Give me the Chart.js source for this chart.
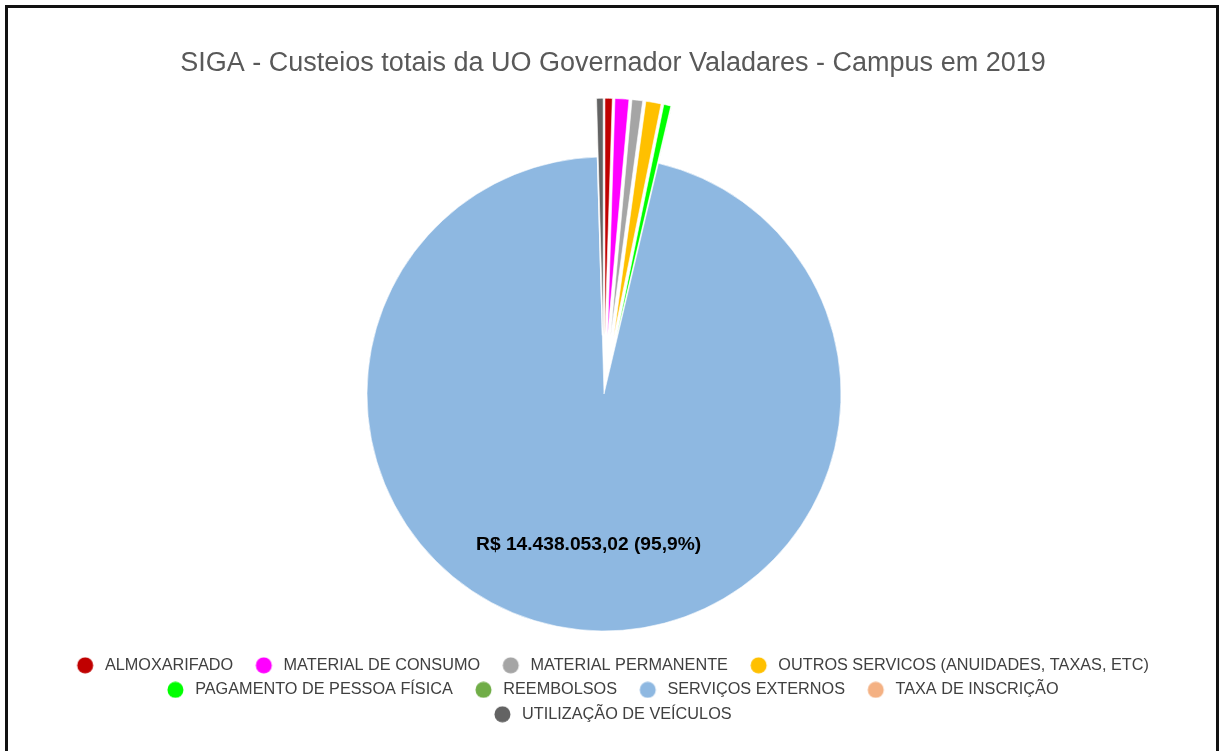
<!DOCTYPE html>
<html>
<head>
<meta charset="utf-8">
<script src="https://cdn.jsdelivr.net/npm/chart.js@4.4.1/dist/chart.umd.min.js"></script>
<style>
html,body{margin:0;padding:0;background:#fff;overflow:hidden;width:1220px;height:751px;}
#wrap{position:relative;width:1220px;height:751px;}
#c{position:absolute;left:0;top:0;}
#frame{position:absolute;left:5px;top:5px;width:1208px;height:800px;border:3px solid #111;pointer-events:none;}
</style>
</head>
<body>
<div id="wrap"><canvas id="c" width="1220" height="751"></canvas><div id="frame"></div></div>
<script>
// ---- data ----
const chartTitle = 'SIGA - Custeios totais da UO Governador Valadares - Campus em 2019';
const categories = [
  'ALMOXARIFADO',
  'MATERIAL DE CONSUMO',
  'MATERIAL PERMANENTE',
  'OUTROS SERVICOS (ANUIDADES, TAXAS, ETC)',
  'PAGAMENTO DE PESSOA FÍSICA',
  'REEMBOLSOS',
  'SERVIÇOS EXTERNOS',
  'TAXA DE INSCRIÇÃO',
  'UTILIZAÇÃO DE VEÍCULOS'
];
const values = [74900, 141800, 108800, 156000, 72400, 1200, 14438053.02, 900, 66900];
const labelledCategories = ['SERVIÇOS EXTERNOS'];

// ---- styles ----
const colors = ['#C00000', '#FF00FF', '#A5A5A5', '#FFC000', '#00FF00', '#70AD47', '#8EB8E1', '#F4B183', '#636363'];
const FONT = "'Liberation Sans', Arial, sans-serif";
const EXPLODE = 58.7;
const explodeDist = categories.map(c => labelledCategories.includes(c) ? 0 : EXPLODE);

// exploded slices: pure translation along the bisector, same radius
Chart.defaults.set('elements.arc', {explode: 0});
const ArcEl = Chart.ArcElement || Chart.elements.ArcElement;
const origArcDraw = ArcEl.prototype.draw;
ArcEl.prototype.draw = function(ctx) {
  const ex = (this.options && this.options.explode) || 0;
  if (!ex) return origArcDraw.call(this, ctx);
  const half = (this.startAngle + this.endAngle) / 2;
  ctx.save();
  ctx.translate(Math.cos(half) * ex, Math.sin(half) * ex);
  origArcDraw.call(this, ctx);
  ctx.restore();
};

function fmtBRL(v) {
  const p = v.toFixed(2).split('.');
  return 'R$ ' + p[0].replace(/\B(?=(\d{3})+(?!\d))/g, '.') + ',' + p[1];
}
function fmtPct(v, total) {
  return (v / total * 100).toFixed(1).replace('.', ',') + '%';
}

const DOT_R = 8, DOT_SHIFT = 5.45;
function dotImage(color) {
  const W = 30, H = 17;
  const cv = document.createElement('canvas');
  cv.width = W; cv.height = H;
  const g = cv.getContext('2d');
  g.fillStyle = color;
  g.beginPath();
  g.arc(W / 2 + DOT_SHIFT, H / 2, DOT_R, 0, Math.PI * 2);
  g.fill();
  return cv;
}
const dots = colors.map(dotImage);

const placement = {
  id: 'placement',
  afterLayout(chart) {
    const cx = 604, cy = 394, h = 330;
    chart.chartArea = {left: cx - h, right: cx + h, top: cy - h, bottom: cy + h, width: 2 * h, height: 2 * h};
    if (chart.titleBlock) { chart.titleBlock.left += 7.25; chart.titleBlock.right += 7.25; }
  }
};

const sliceLabel = {
  id: 'sliceLabel',
  afterDatasetsDraw(chart) {
    const meta = chart.getDatasetMeta(0);
    const data = chart.data.datasets[0].data;
    const total = data.reduce((a, b) => a + b, 0);
    const ctx = chart.ctx;
    ctx.save();
    ctx.font = 'bold 19.2px ' + FONT;
    ctx.fillStyle = '#000';
    ctx.textAlign = 'center';
    ctx.textBaseline = 'middle';
    chart.data.labels.forEach((lab, i) => {
      if (!labelledCategories.includes(lab)) return;
      const el = meta.data[i];
      const {x, y, startAngle, endAngle, outerRadius} = el.getProps(['x', 'y', 'startAngle', 'endAngle', 'outerRadius'], true);
      const mid = (startAngle + endAngle) / 2;
      const r = outerRadius * 0.64;
      ctx.fillText(fmtBRL(data[i]) + ' (' + fmtPct(data[i], total) + ')', x + Math.cos(mid) * r, y + Math.sin(mid) * r);
    });
    ctx.restore();
  }
};

new Chart(document.getElementById('c'), {
  type: 'pie',
  data: {
    labels: categories,
    datasets: [{
      data: values,
      backgroundColor: colors,
      borderColor: '#FFFFFF',
      borderWidth: 0.6,
      explode: explodeDist,
      radius: 237
    }]
  },
  options: {
    responsive: false,
    devicePixelRatio: 1,
    animation: false,
    events: [],
    rotation: 0,
    layout: {padding: {left: 35.75, right: 44.25, top: 0, bottom: 18.6}},
    plugins: {
      tooltip: {enabled: false},
      title: {
        display: true,
        text: chartTitle,
        color: '#595959',
        font: {family: FONT, size: 27, weight: 'normal'},
        padding: {top: 47, bottom: 8}
      },
      legend: {
        display: true,
        position: 'bottom',
        align: 'center',
        labels: {
          font: {family: FONT, size: 16.25},
          color: '#404040',
          padding: 8.2,
          usePointStyle: true,
          pointStyleWidth: 34.1,
          generateLabels: () => categories.map((c, i) => ({
            text: c,
            fillStyle: colors[i],
            strokeStyle: colors[i],
            lineWidth: 0,
            pointStyle: dots[i],
            fontColor: '#404040',
            hidden: false,
            index: i
          }))
        }
      }
    }
  },
  plugins: [placement, sliceLabel]
});
</script>
</body>
</html>
